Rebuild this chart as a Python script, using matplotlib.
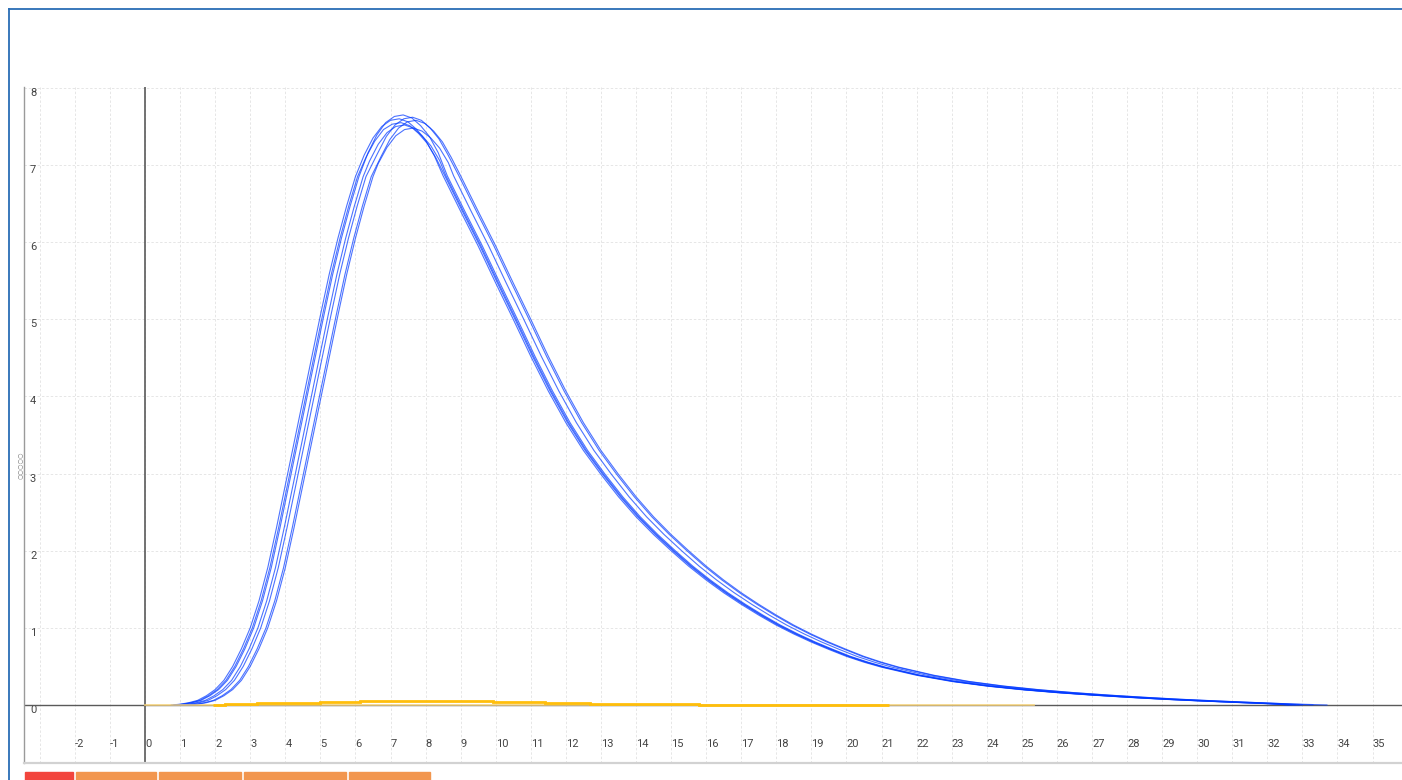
import matplotlib
matplotlib.use('Agg')
import matplotlib.pyplot as plt
from matplotlib.lines import Line2D
from matplotlib.patches import Rectangle

# y levels shared by the peak curves (rising flank, then falling flank)
rise_y = [0.0, 0.01, 0.03, 0.06, 0.12, 0.2, 0.32, 0.5, 0.73, 1.0, 1.35,
          1.78, 2.3, 2.85, 3.4, 3.95, 4.5, 5.05, 5.58, 6.05, 6.47, 6.85]
fall_y = [6.86, 6.4, 5.95, 5.47, 5.0, 4.52, 4.07, 3.66, 3.3, 2.99, 2.7,
          2.44, 2.21, 2.0, 1.8, 1.62, 1.455, 1.305, 1.165, 1.035, 0.92, 0.815,
          0.72, 0.63, 0.555, 0.49, 0.385, 0.305, 0.245, 0.198, 0.16, 0.128,
          0.1, 0.075, 0.054, 0.035, 0.017, 0.0]

# peak tops (9 points each)
top1 = [7.13, 7.35, 7.50, 7.58, 7.60, 7.56, 7.46, 7.32, 7.12]
top2 = [7.10, 7.31, 7.46, 7.53, 7.55, 7.51, 7.41, 7.28, 7.09]
top3 = [7.16, 7.39, 7.55, 7.63, 7.65, 7.61, 7.51, 7.37, 7.16]
top4 = [7.05, 7.27, 7.42, 7.50, 7.52, 7.48, 7.38, 7.25, 7.06]
top5 = [7.15, 7.37, 7.52, 7.60, 7.62, 7.58, 7.48, 7.34, 7.14]
top6 = [7.11, 7.33, 7.48, 7.56, 7.58, 7.54, 7.44, 7.30, 7.10]
top7 = [7.02, 7.23, 7.38, 7.46, 7.48, 7.44, 7.35, 7.22, 7.03]

# x positions of each curve (rise | top | fall)
x1 = [0.75, 1.0, 1.25, 1.5, 1.75, 2.0, 2.25, 2.5, 2.75, 3.0, 3.25, 3.5, 3.75, 4.0, 4.25, 4.5,
      4.75, 5.0, 5.25, 5.5, 5.75, 6.0,
      6.25, 6.5, 6.75, 7.0, 7.25, 7.5, 7.75, 8.0, 8.25,
      8.5, 9.0, 9.5, 10.0, 10.5, 11.0, 11.5, 12.0, 12.5, 13.0, 13.5, 14.0, 14.5, 15.0, 15.5,
      16.0, 16.5, 17.0, 17.5, 18.0, 18.5, 19.0, 19.5, 20.0, 20.5, 21.0, 22.0, 23.0, 24.0,
      25.0, 26.0, 27.0, 28.0, 29.0, 30.0, 31.0, 32.0, 32.6]
x2 = [0.81, 1.06, 1.31, 1.56, 1.81, 2.06, 2.31, 2.56, 2.81, 3.06, 3.31, 3.56, 3.81, 4.06, 4.31, 4.56,
      4.81, 5.06, 5.31, 5.56, 5.81, 6.06,
      6.3, 6.55, 6.8, 7.05, 7.3, 7.55, 7.8, 8.05, 8.3,
      8.55, 9.05, 9.55, 10.05, 10.55, 11.05, 11.55, 12.05, 12.55, 13.05, 13.55, 14.05, 14.55, 15.05, 15.55,
      16.05, 16.55, 17.05, 17.55, 18.05, 18.55, 19.05, 19.55, 20.05, 20.55, 21.05, 22.05, 23.05, 24.05,
      25.05, 26.05, 27.05, 28.05, 29.05, 30.05, 31.05, 32.05, 32.7]
x3 = [0.85, 1.1, 1.35, 1.6, 1.85, 2.1, 2.35, 2.6, 2.85, 3.1, 3.35, 3.6, 3.85, 4.1, 4.35, 4.6,
      4.85, 5.1, 5.35, 5.6, 5.85, 6.1,
      6.36, 6.61, 6.86, 7.11, 7.36, 7.61, 7.86, 8.11, 8.36,
      8.62, 9.12, 9.62, 10.12, 10.62, 11.12, 11.62, 12.12, 12.62, 13.12, 13.62, 14.12, 14.62, 15.12, 15.62,
      16.12, 16.62, 17.12, 17.62, 18.12, 18.62, 19.12, 19.62, 20.12, 20.62, 21.12, 22.12, 23.12, 24.12,
      25.12, 26.12, 27.12, 28.12, 29.12, 30.12, 31.12, 32.12, 32.9]
x4 = [0.97, 1.22, 1.47, 1.72, 1.97, 2.22, 2.47, 2.72, 2.97, 3.22, 3.47, 3.72, 3.97, 4.22, 4.47, 4.72,
      4.97, 5.22, 5.47, 5.72, 5.97, 6.22,
      6.4, 6.65, 6.9, 7.15, 7.4, 7.65, 7.9, 8.15, 8.4,
      8.58, 9.08, 9.58, 10.08, 10.58, 11.08, 11.58, 12.08, 12.58, 13.08, 13.58, 14.08, 14.58, 15.08, 15.58,
      16.08, 16.58, 17.08, 17.58, 18.08, 18.58, 19.08, 19.58, 20.08, 20.58, 21.08, 22.08, 23.08, 24.08,
      25.08, 26.08, 27.08, 28.08, 29.08, 30.08, 31.08, 32.08, 32.8]
x5 = [1.05, 1.3, 1.55, 1.8, 2.05, 2.3, 2.55, 2.8, 3.05, 3.3, 3.55, 3.8, 4.05, 4.3, 4.55, 4.8,
      5.05, 5.3, 5.55, 5.8, 6.05, 6.3,
      6.63, 6.88, 7.13, 7.38, 7.63, 7.88, 8.13, 8.38, 8.63,
      8.95, 9.45, 9.95, 10.45, 10.95, 11.45, 11.95, 12.45, 12.95, 13.45, 13.95, 14.45, 14.95, 15.45, 15.95,
      16.45, 16.95, 17.45, 17.95, 18.45, 18.95, 19.45, 19.95, 20.45, 20.95, 21.45, 22.45, 23.45, 24.45,
      25.45, 26.45, 27.45, 28.45, 29.45, 30.45, 31.45, 32.45, 33.3]
x6 = [1.2, 1.45, 1.7, 1.95, 2.2, 2.45, 2.7, 2.95, 3.2, 3.45, 3.7, 3.95, 4.2, 4.45, 4.7, 4.95,
      5.2, 5.45, 5.7, 5.95, 6.2, 6.45,
      6.73, 6.98, 7.23, 7.48, 7.73, 7.98, 8.23, 8.48, 8.73,
      9.0, 9.5, 10.0, 10.5, 11.0, 11.5, 12.0, 12.5, 13.0, 13.5, 14.0, 14.5, 15.0, 15.5, 16.0,
      16.5, 17.0, 17.5, 18.0, 18.5, 19.0, 19.5, 20.0, 20.5, 21.0, 21.5, 22.5, 23.5, 24.5,
      25.5, 26.5, 27.5, 28.5, 29.5, 30.5, 31.5, 32.5, 33.7]
x7 = [1.25, 1.5, 1.75, 2.0, 2.25, 2.5, 2.75, 3.0, 3.25, 3.5, 3.75, 4.0, 4.25, 4.5, 4.75, 5.0,
      5.25, 5.5, 5.75, 6.0, 6.25, 6.5,
      6.65, 6.9, 7.15, 7.4, 7.65, 7.9, 8.15, 8.4, 8.65,
      8.8, 9.3, 9.8, 10.3, 10.8, 11.3, 11.8, 12.3, 12.8, 13.3, 13.8, 14.3, 14.8, 15.3, 15.8,
      16.3, 16.8, 17.3, 17.8, 18.3, 18.8, 19.3, 19.8, 20.3, 20.8, 21.3, 22.3, 23.3, 24.3,
      25.3, 26.3, 27.3, 28.3, 29.3, 30.3, 31.3, 32.3, 33.0]

curves_x = [x1, x2, x3, x4, x5, x6, x7]
curves_top = [top1, top2, top3, top4, top5, top6, top7]

# small orange step series near zero
step_edges = [1.94, 2.28, 3.2, 4.05, 5.0, 6.13, 9.93, 11.4, 12.69, 14.4, 15.8, 16.45, 21.2]
step_vals = [0.0, 0.01, 0.02, 0.03, 0.04, 0.048, 0.035, 0.026, 0.017, 0.009, 0.005, 0.002]
pale_x = [0.0, 25.35]
pale_y = [0.0, 0.0]

x_ticks = list(range(-3, 36))
y_ticks = list(range(0, 9))

W, H = 1402, 780
fig = plt.figure(figsize=(W / 100, H / 100), dpi=100)
ax = fig.add_axes([24 / W, 17 / H, (W - 24) / W, 676 / H])
ax.set_xlim(-3.45, 35.84)
ax.set_ylim(-0.752, 8.012)

for sp in ['top', 'right']:
    ax.spines[sp].set_visible(False)
ax.spines['left'].set_color('#9a9a9a')
ax.spines['left'].set_linewidth(1.0)
ax.spines['bottom'].set_color('#d2d2d2')
ax.spines['bottom'].set_linewidth(1.6)

ax.set_axisbelow(True)
ax.grid(True, color='#e6e6e6', linestyle=(0, (2.5, 2)), linewidth=0.7)

ax.set_xticks(x_ticks)
ax.set_xticklabels(['' if t == -3 else str(t) for t in x_ticks])
ax.set_yticks(y_ticks)
ax.set_yticklabels([str(t) for t in y_ticks])
ax.tick_params(axis='x', length=0, pad=-17, labelsize=8, labelcolor='#444444')
ax.tick_params(axis='y', length=0, pad=-4.3, labelsize=8, labelcolor='#444444')
for lab in ax.get_xticklabels():
    lab.set_horizontalalignment('left')
    lab.set_family('Roboto')
for lab in ax.get_yticklabels():
    lab.set_horizontalalignment('left')
    lab.set_verticalalignment('top')
    lab.set_family('Roboto')

# zero lines
ax.axhline(0, color='#5a5a5a', lw=1.0, zorder=2)
ax.axvline(0, color='#5a5a5a', lw=1.2, zorder=2)

for cx, top in zip(curves_x, curves_top):
    cy = rise_y + top + fall_y
    ax.plot(cx, cy, color='#0038ff', lw=0.8, alpha=0.7, zorder=3)

ax.plot(pale_x, pale_y, color='#ffd97a', lw=1.3, alpha=0.8, zorder=4)
ax.stairs(step_vals, step_edges, color='#ffbe0b', lw=2.0, zorder=4, baseline=None)

# y axis title (small circles)
fig.text(20 / W, 1 - 465 / H, '○○○○○', rotation=90, fontsize=4.5,
         color='#777777', ha='center', va='center')

# container border
fig.add_artist(Line2D([9 / W, 9 / W], [0, 1 - 9 / H], color='#2a6db5', lw=1.3))
fig.add_artist(Line2D([9 / W, 1], [1 - 9 / H, 1 - 9 / H], color='#2a6db5', lw=1.3))

# button strip at the bottom edge
buttons = [(25, 73, '#f2453d'), (76, 156, '#f2964e'), (159, 241, '#f2964e'),
           (244, 346, '#f2964e'), (349, 430, '#f2964e')]
for bx0, bx1, col in buttons:
    fig.add_artist(Rectangle((bx0 / W, 0), (bx1 - bx0) / W, 8 / H, color=col,
                             transform=fig.transFigure))

fig.savefig('out.png', dpi=100)
